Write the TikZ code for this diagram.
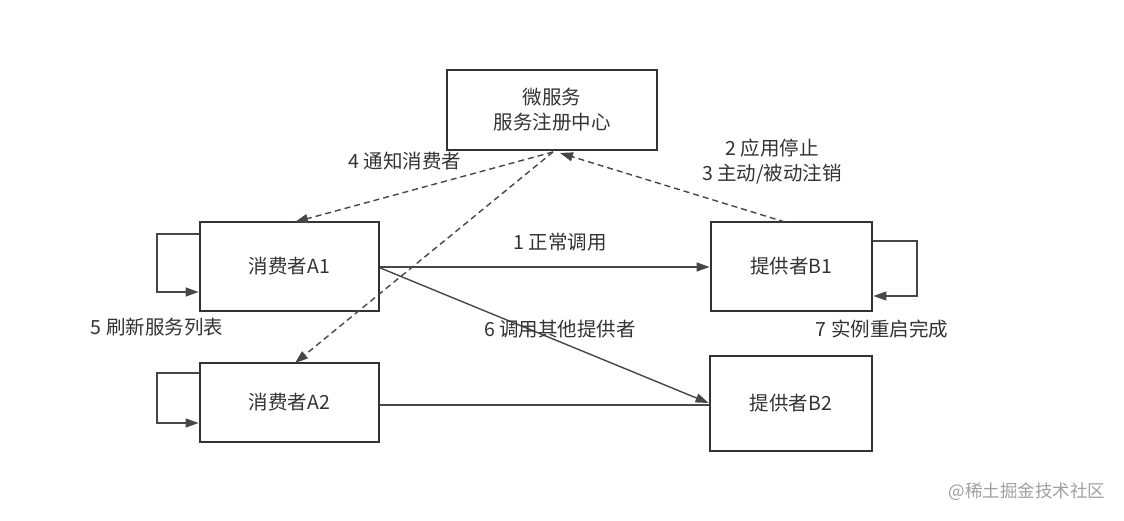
\documentclass[tikz,border=0pt]{standalone}
\usepackage{fontspec}
\setmainfont{Noto Sans CJK SC}
\usetikzlibrary{arrows.meta}
\definecolor{ink}{HTML}{333333}
\definecolor{wm}{HTML}{A0A0A0}
\begin{document}
\begin{tikzpicture}[x=1pt,y=-1pt,
  font=\fontsize{19.5}{25}\selectfont,
  box/.style={draw=ink,line width=2.8pt,text=ink,inner sep=0pt,align=center},
  conn/.style={draw=ink!90,line width=1.4pt,-{Triangle[length=13pt,width=9pt]}},
  dconn/.style={conn,dash pattern=on 6pt off 4pt},
  loopl/.style={draw=ink!90,line width=1.2pt,-{Triangle[length=13pt,width=9pt]}},
  lbl/.style={text=ink,inner sep=0pt,align=center}]
\useasboundingbox (0,0) rectangle (1124,521);
\fill[white] (0,0) rectangle (1124,521);
% boxes
\node[box,minimum width=210pt,minimum height=80pt] (reg) at (552,110) {微服务\\服务注册中心};
\node[box,minimum width=179pt,minimum height=89pt] (a1) at (289.5,266.5) {消费者A1};
\node[box,minimum width=179pt,minimum height=79pt] (a2) at (289.5,402.5) {消费者A2};
\node[box,minimum width=161pt,minimum height=89pt] (b1) at (791.5,266.5) {提供者B1};
\node[box,minimum width=162pt,minimum height=95pt] (b2) at (791,403.5) {提供者B2};
% helper coordinates
\coordinate (regb) at (553,152);
\coordinate (b1t) at (785,222);
\coordinate (a1t) at (295,222);
\coordinate (a2t) at (295,363);
% solid connectors
\draw[conn] (a1.east |- 0,267) -- (b1.west |- 0,267);
\draw[conn] (a1.east |- 0,268) -- (b2.west |- 0,403);
\draw[draw=ink!90,line width=1.4pt] (a2.east |- 0,405) -- (b2.west |- 0,405);
% dashed connectors
\draw[dconn] (regb) -- (a1t);
\draw[dconn] (regb) -- (a2t);
\draw[dconn] (b1t) -- (560,153);
% self loops
\draw[loopl] (a1.west |- 0,234) -- (157,234) -- (157,292) -- (a1.west |- 0,292);
\draw[loopl] (a2.west |- 0,373) -- (157,373) -- (157,423) -- (a2.west |- 0,423);
\draw[loopl] (b1.east |- 0,241) -- (917,241) -- (917,296) -- (b1.east |- 0,296);
% labels
\node[lbl] (l4) at (405,161) {4 通知消费者};
\node[lbl] (l23) at (772,161) {2 应用停止\\3 主动/被动注销};
\node[lbl] (l1) at (560,242) {1 正常调用};
\node[lbl] (l5) at (157,327) {5 刷新服务列表};
\node[lbl] (l6) at (560,329) {6 调用其他提供者};
\node[lbl] (l7) at (882,329) {7 实例重启完成};
\node[lbl,text=wm,font=\fontsize{17.5}{20}\selectfont] (wmk) at (1027,492) {@稀土掘金技术社区};
\end{tikzpicture}
\end{document}
